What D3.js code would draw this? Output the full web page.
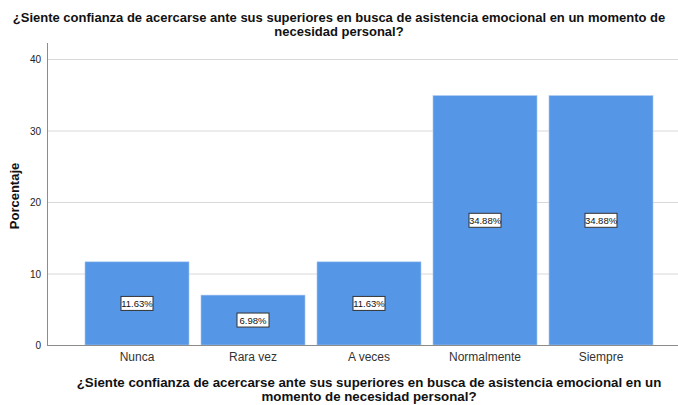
<!DOCTYPE html>
<head>
    <meta charset="utf-8">
    <script src="https://d3js.org/d3.v7.min.js"></script>
    <style type="text/css">
        html, body { margin: 0; background: #fff; }
        svg { display: block; font-family: Arial, "Liberation Sans", sans-serif; }
    </style>
</head>
<body>
    <script type="text/javascript">
        var categories = ["Nunca", "Rara vez", "A veces", "Normalmente", "Siempre"];
        var percentages = [11.63, 6.98, 11.63, 34.88, 34.88];
        var yTicks = [0, 10, 20, 30, 40];
        var titleLines = ["¿Siente confianza de acercarse ante sus superiores en busca de asistencia emocional en un momento de",
            "necesidad personal?"];
        var xTitleLines = ["¿Siente confianza de acercarse ante sus superiores en busca de asistencia emocional en un",
            "momento de necesidad personal?"];

        var W = 678, H = 405;
        var svg = d3.select("body").append("svg").attr("width", W).attr("height", H);

        var y = d3.scaleLinear().domain([0, 40]).range([345, 59]);
        var x = d3.scaleBand().domain(categories).range([79, 659])
            .paddingInner(0.1034).paddingOuter(0.0517);

        // grid
        svg.append("g").selectAll("line").data(yTicks.filter(function(d) { return d > 0; }))
            .enter().append("line")
            .attr("x1", 47).attr("x2", W)
            .attr("y1", function(d) { return y(d) + 0.5; })
            .attr("y2", function(d) { return y(d) + 0.5; })
            .attr("stroke", "#d9d9d9").attr("stroke-width", 1);

        // bars
        svg.append("g").selectAll("rect").data(percentages).enter().append("rect")
            .attr("x", function(d, i) { return x(categories[i]); })
            .attr("y", function(d) { return y(d); })
            .attr("width", x.bandwidth())
            .attr("height", function(d) { return y(0) - y(d); })
            .attr("fill", "#5596e6")
            .attr("stroke", "#a9c8ef").attr("stroke-width", 0.6);

        // axes lines
        svg.append("line").attr("x1", 47.5).attr("x2", 47.5).attr("y1", 43).attr("y2", 346)
            .attr("stroke", "#8c8c8c");
        svg.append("line").attr("x1", 47).attr("x2", W).attr("y1", 345.5).attr("y2", 345.5)
            .attr("stroke", "#8c8c8c");

        // y tick labels
        svg.append("g").selectAll("text").data(yTicks).enter().append("text")
            .attr("x", 41).attr("y", function(d) { return y(d) + 4; })
            .attr("text-anchor", "end").attr("font-size", 10).attr("fill", "#222")
            .text(function(d) { return d; });

        // x labels
        svg.append("g").selectAll("text").data(categories).enter().append("text")
            .attr("x", function(d) { return x(d) + x.bandwidth() / 2; })
            .attr("y", 361).attr("text-anchor", "middle").attr("font-size", 12)
            .attr("fill", "#333").text(function(d) { return d; });

        // value labels
        var lab = svg.append("g").selectAll("g").data(percentages).enter().append("g")
            .attr("transform", function(d, i) {
                return "translate(" + (x(categories[i]) + x.bandwidth() / 2) + "," + ((y(d) + y(0)) / 2) + ")";
            });
        lab.append("rect").attr("x", -16).attr("y", -7).attr("width", 32).attr("height", 14)
            .attr("fill", "#fff").attr("stroke", "#333").attr("stroke-width", 1);
        lab.append("text").attr("y", 3.5).attr("text-anchor", "middle").attr("font-size", 9.5)
            .attr("fill", "#111").text(function(d) { return d.toFixed(2) + "%"; });

        // titles
        svg.append("g").selectAll("text").data(titleLines).enter().append("text")
            .attr("x", 339).attr("y", function(d, i) { return 22 + i * 14; })
            .attr("text-anchor", "middle").attr("font-size", 13).attr("font-weight", "bold")
            .attr("fill", "#111").text(function(d) { return d; });
        svg.append("g").selectAll("text").data(xTitleLines).enter().append("text")
            .attr("x", 369).attr("y", function(d, i) { return 387 + i * 14; })
            .attr("text-anchor", "middle").attr("font-size", 13.3).attr("font-weight", "bold")
            .attr("fill", "#111").text(function(d) { return d; });
        svg.append("text").attr("transform", "translate(19,196) rotate(-90)")
            .attr("text-anchor", "middle").attr("font-size", 13).attr("font-weight", "bold")
            .attr("fill", "#111").text("Porcentaje");
    </script>
</body>
